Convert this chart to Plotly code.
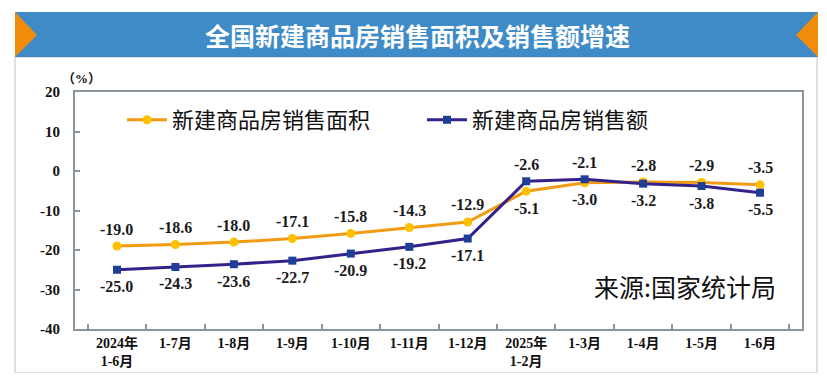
import plotly.graph_objects as go

categories = ["2024年<br>1-6月", "1-7月", "1-8月", "1-9月", "1-10月", "1-11月", "1-12月",
              "2025年<br>1-2月", "1-3月", "1-4月", "1-5月", "1-6月"]
area_growth = [-19.0, -18.6, -18.0, -17.1, -15.8, -14.3, -12.9, -5.1, -3.0, -2.8, -2.9, -3.5]
sales_growth = [-25.0, -24.3, -23.6, -22.7, -20.9, -19.2, -17.1, -2.6, -2.1, -3.2, -3.8, -5.5]
series_names = ["新建商品房销售面积", "新建商品房销售额"]
y_ticks = [20, 10, 0, -10, -20, -30, -40]

# the page body has an 8px margin; work in window pixels and convert
OFF = 8
W, H = 827 - 2 * OFF, 381 - 2 * OFF
PLOT_L, PLOT_R, PLOT_T, PLOT_B = 75, 802, 92, 329   # window pixels
L, T = PLOT_L - OFF, PLOT_T - OFF
R, B = W - (PLOT_R - OFF), H - (PLOT_B - OFF)
PW, PH = PLOT_R - PLOT_L, PLOT_B - PLOT_T


def px(x):
    return (x - PLOT_L) / PW


def py(y):
    return (PLOT_B - y) / PH


SERIF = "Liberation Serif, Noto Sans CJK SC"
ORANGE_LINE = "#F29A12"
ORANGE_MARK = "#FFC000"
NAVY_LINE = "#33228A"
NAVY_MARK = "#1F3F96"
AXIS = "#8A969E"

fig = go.Figure()
fig.add_trace(go.Scatter(
    x=categories, y=area_growth, name=series_names[0], mode="lines+markers",
    line=dict(color=ORANGE_LINE, width=3),
    marker=dict(symbol="circle", size=9, color=ORANGE_MARK, line=dict(width=0)),
))
fig.add_trace(go.Scatter(
    x=categories, y=sales_growth, name=series_names[1], mode="lines+markers",
    line=dict(color=NAVY_LINE, width=3),
    marker=dict(symbol="square", size=8, color=NAVY_MARK, line=dict(width=0)),
))

annotations = []
for c, a, s in zip(categories, area_growth, sales_growth):
    for v, other in ((a, s), (s, a)):
        annotations.append(dict(
            x=c, y=v, xref="x", yref="y", text=f"<b>{v:.1f}</b>", showarrow=False,
            yshift=17 if v >= other else -17,
            font=dict(family=SERIF, size=16, color="#1A1A1A"),
        ))

annotations.append(dict(
    x=px(417), y=py(35), xref="paper", yref="paper", xanchor="center", yanchor="middle",
    text="<b>全国新建商品房销售面积及销售额增速</b>", showarrow=False,
    font=dict(family="Noto Sans CJK SC", size=25, color="white"),
))
annotations.append(dict(
    x=px(81), y=py(78), xref="paper", yref="paper", xanchor="center", yanchor="middle",
    text="<b>（%）</b>", showarrow=False,
    font=dict(family=SERIF, size=13, color="#111"),
))
annotations.append(dict(
    x=px(685), y=py(286), xref="paper", yref="paper", xanchor="center", yanchor="middle",
    text="来源:国家统计局", showarrow=False,
    font=dict(family="Noto Sans CJK SC", size=25, color="#111"),
))

shapes = [
    dict(type="rect", xref="paper", yref="paper", x0=px(15), x1=px(817), y0=py(373), y1=py(57),
         line=dict(color="#D6D6D6", width=1.5), fillcolor="rgba(0,0,0,0)", layer="below"),
    dict(type="rect", xref="paper", yref="paper", x0=px(15), x1=px(818), y0=py(57), y1=py(12),
         line=dict(width=0), fillcolor="#3F8BC8", layer="below"),
    dict(type="path", xref="paper", yref="paper",
         path=f"M {px(15)} {py(12)} L {px(37)} {py(35)} L {px(15)} {py(57)} Z",
         line=dict(width=0), fillcolor="#F08C0A", layer="below"),
    dict(type="path", xref="paper", yref="paper",
         path=f"M {px(818)} {py(12)} L {px(796)} {py(35)} L {px(818)} {py(57)} Z",
         line=dict(width=0), fillcolor="#F08C0A", layer="below"),
]

fig.update_layout(
    width=W, height=H,
    margin=dict(l=L, r=R, t=T, b=B, autoexpand=False),
    paper_bgcolor="white", plot_bgcolor="white",
    showlegend=True,
    legend=dict(
        orientation="h", x=px(122), y=py(120), xanchor="left", yanchor="middle",
        font=dict(family="Noto Sans CJK SC", size=22, color="#111"),
        entrywidth=245, entrywidthmode="pixels",
        bgcolor="rgba(0,0,0,0)", itemwidth=40,
    ),
    annotations=annotations,
    shapes=shapes,
    xaxis=dict(
        type="category", showline=True, mirror=True, linecolor=AXIS, linewidth=2,
        ticks="inside", ticklen=5, tickcolor=AXIS, tickwidth=1.5, tickson="boundaries",
        showgrid=False, zeroline=False, automargin=False,
        tickfont=dict(family=SERIF, size=14, color="#111", weight="bold"),
    ),
    yaxis=dict(
        range=[-40, 20], tickvals=y_ticks, ticktext=[str(v) for v in y_ticks],
        showline=True, mirror=True, linecolor=AXIS, linewidth=2,
        ticks="inside", ticklen=5, tickcolor=AXIS, tickwidth=1.5,
        showgrid=False, zeroline=False, ticklabelstandoff=10, automargin=False,
        tickfont=dict(family=SERIF, size=15, color="#111", weight="bold"),
    ),
)

fig.write_html("out.html")
